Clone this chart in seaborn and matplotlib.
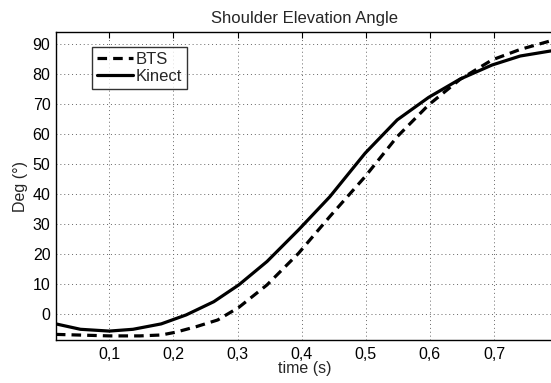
import numpy as np
import pandas as pd
import matplotlib
matplotlib.use("Agg")
import matplotlib.pyplot as plt
import seaborn as sns
from matplotlib.ticker import FuncFormatter

kinect_t = [0.0167, 0.055, 0.1, 0.137, 0.181, 0.22, 0.263, 0.302, 0.346, 0.395,
            0.444, 0.499, 0.549, 0.598, 0.647, 0.697, 0.741, 0.789]
kinect_v = [-3.2, -5.0, -5.6, -5.0, -3.2, -0.2, 4.2, 9.8, 17.6, 28.1,
            39.2, 53.7, 64.8, 72.3, 78.4, 83.1, 86.1, 87.8]

bts_t = [0.0167, 0.1, 0.148, 0.181, 0.203, 0.236, 0.269, 0.302, 0.346, 0.395,
         0.444, 0.499, 0.549, 0.598, 0.647, 0.697, 0.741, 0.789]
bts_v = [-6.7, -7.2, -7.2, -6.9, -6.0, -4.1, -1.9, 2.3, 9.8, 20.3,
         32.6, 45.9, 59.2, 69.8, 78.3, 84.8, 88.3, 91.2]

x_ticks = [0.1, 0.2, 0.3, 0.4, 0.5, 0.6, 0.7]
y_ticks = [0, 10, 20, 30, 40, 50, 60, 70, 80, 90]

df = pd.concat([
    pd.DataFrame({"t": bts_t, "v": bts_v, "series": "BTS"}),
    pd.DataFrame({"t": kinect_t, "v": kinect_v, "series": "Kinect"}),
], ignore_index=True)

sns.set_style("white")
plt.rcParams["font.family"] = ["Liberation Sans", "DejaVu Sans"]

FS = 11.5
FS_BIG = 12

fig = plt.figure(figsize=(5.51, 3.83), dpi=100)
ax = fig.add_axes([56 / 551, (383 - 340) / 383, (553 - 56) / 551, (340 - 32.3) / 383])

sns.lineplot(data=df, x="t", y="v", style="series", hue="series",
             palette={"BTS": "black", "Kinect": "black"},
             dashes={"BTS": (3.0, 1.9), "Kinect": ""},
             linewidth=2.3, ax=ax, sort=False, estimator=None)

ax.set_xlim(0.0169, 0.792)
ax.set_ylim(-8.57, 94.0)
ax.set_xticks(x_ticks)
ax.set_yticks(y_ticks)
ax.xaxis.set_major_formatter(FuncFormatter(lambda v, p: f"{v:.1f}".replace(".", ",")))
ax.tick_params(direction="in", length=4, width=0.8, labelsize=FS, colors="black",
               top=True, right=False)
ax.tick_params(axis="y", pad=4)
ax.tick_params(axis="x", pad=5)
ax.grid(True, linestyle=(0, (1, 3)), color="#666666", linewidth=0.7)
for s in ax.spines.values():
    s.set_color("black")
    s.set_linewidth(1.0)

ax.set_xlabel("time (s)", fontsize=FS, labelpad=-1)
ax.set_ylabel("Deg (°)", fontsize=FS, labelpad=3)
ax.set_title("Shoulder Elevation Angle", fontsize=FS_BIG, pad=7)

leg = ax.legend(loc="upper left", bbox_to_anchor=(0.072, 0.953), frameon=True,
                fancybox=False, edgecolor="black", fontsize=FS_BIG, handlelength=2.2,
                handletextpad=0.15, borderpad=0.3, labelspacing=0.15, borderaxespad=0)
leg.get_frame().set_linewidth(1.0)
for l in leg.get_lines():
    l.set_linewidth(2.3)

fig.savefig("out.png", dpi=100)
